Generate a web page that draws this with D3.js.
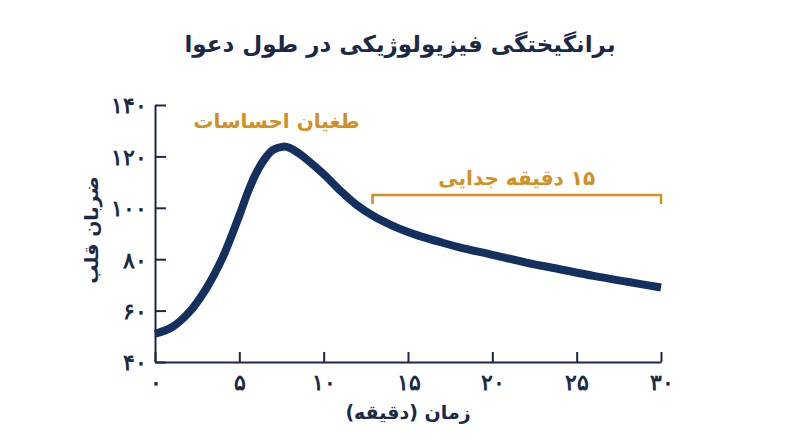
<!DOCTYPE html>
<html lang="fa">
<head>
<meta charset="utf-8">
<script src="https://cdn.jsdelivr.net/npm/d3@7"></script>
<style>
  body { margin: 0; background: #fff; }
  svg { display: block; font-family: "DejaVu Sans", "Noto Sans", sans-serif; }
</style>
</head>
<body>
<svg id="chart" width="800" height="447"></svg>
<script>
// minutes and heart rate
const minutes = [0, 1, 2, 3, 4, 5, 5.5, 6, 6.5, 7, 7.6, 8, 8.5, 9, 10, 11, 12, 13, 14, 15, 16, 17, 18, 20, 22, 24, 26, 28, 30]
const heartRate = [51, 53.5, 59.2, 68.2, 80.5, 97, 106, 113.5, 119, 122.5, 123.8, 123.3, 121.3, 118.8, 113.1, 106.6, 100.9, 96.6, 93.3, 90.6, 88.4, 86.5, 84.7, 81.7, 78.7, 76.1, 73.5, 71.2, 69]

const xTicks = [0, 5, 10, 15, 20, 25, 30]
const yTicks = [40, 60, 80, 100, 120, 140]
const faDigits = '۰۱۲۳۴۵۶۷۸۹'
const toFa = n => String(n).replace(/\d/g, d => faDigits[d])

const title = 'برانگیختگی فیزیولوژیکی در طول دعوا'
const xLabel = 'زمان (دقیقه)'
const yLabel = 'ضربان قلب'
const peakNote = 'طغیان احساسات'
const gapNote = '۱۵ دقیقه جدایی'
const gapRange = [12.9, 30]
const gapLevel = 105
const peakNoteAt = [7.2, 131]

const navy = '#14305e'
const ink = '#1b2947'
const amber = '#d38f1f'

const width = 800, height = 447
const margin = { top: 105, right: 139, bottom: 85, left: 155 }
const w = width - margin.left - margin.right
const h = height - margin.top - margin.bottom

const svg = d3.select('#chart')
const g = svg.append('g').attr('transform', `translate(${margin.left},${margin.top})`)

const x = d3.scaleLinear().domain([0, 30]).range([0, w])
const y = d3.scaleLinear().domain([40, 140]).range([h, 0])

// axes with inward ticks
const xAxis = g.append('g').attr('transform', `translate(0,${h})`)
  .call(d3.axisBottom(x).tickValues(xTicks).tickSize(-10).tickSizeOuter(0).tickFormat(toFa))
const yAxis = g.append('g')
  .call(d3.axisLeft(y).tickValues(yTicks).tickSize(-11).tickSizeOuter(0).tickFormat(toFa))

;[xAxis, yAxis].forEach(a => {
  a.select('.domain').attr('stroke', ink).attr('stroke-width', 2)
  a.selectAll('.tick line').attr('stroke', ink).attr('stroke-width', 2)
  a.selectAll('.tick text').attr('fill', ink).attr('font-size', 22).attr('font-weight', 'bold')
})
xAxis.selectAll('.tick text').attr('y', 12).attr('dy', '0.71em')
yAxis.selectAll('.tick text').attr('x', -8).attr('dy', '0.36em')

// curve
const line = d3.line()
  .x((d, i) => x(minutes[i]))
  .y(d => y(d))
  .curve(d3.curveCatmullRom.alpha(0.5))
g.append('path')
  .datum(heartRate)
  .attr('fill', 'none')
  .attr('stroke', navy)
  .attr('stroke-width', 8)
  .attr('d', line)

// bracket for the 15 minute gap
const by = y(gapLevel)
g.append('path')
  .attr('fill', 'none')
  .attr('stroke', amber)
  .attr('stroke-width', 2.5)
  .attr('d', `M${x(gapRange[0])},${by + 9}V${by}H${x(gapRange[1])}V${by + 9}`)
g.append('text')
  .attr('x', (x(gapRange[0]) + x(gapRange[1])) / 2).attr('y', by - 10)
  .attr('text-anchor', 'middle').attr('direction', 'rtl')
  .attr('fill', amber).attr('font-size', 20).attr('font-weight', 'bold')
  .text(gapNote)

g.append('text')
  .attr('x', x(peakNoteAt[0])).attr('y', y(peakNoteAt[1]))
  .attr('text-anchor', 'middle').attr('direction', 'rtl')
  .attr('fill', amber).attr('font-size', 20).attr('font-weight', 'bold')
  .text(peakNote)

// titles
svg.append('text').attr('x', 400).attr('y', 52)
  .attr('text-anchor', 'middle').attr('direction', 'rtl')
  .attr('fill', ink).attr('font-size', 23).attr('font-weight', 'bold')
  .text(title)
svg.append('text').attr('x', margin.left + w / 2).attr('y', 419)
  .attr('text-anchor', 'middle').attr('direction', 'rtl')
  .attr('fill', ink).attr('font-size', 19).attr('font-weight', 'bold')
  .text(xLabel)
svg.append('text').attr('transform', `translate(98, ${margin.top + 125}) rotate(-90)`)
  .attr('text-anchor', 'middle').attr('direction', 'rtl')
  .attr('fill', ink).attr('font-size', 19).attr('font-weight', 'bold')
  .text(yLabel)
</script>
</body>
</html>
